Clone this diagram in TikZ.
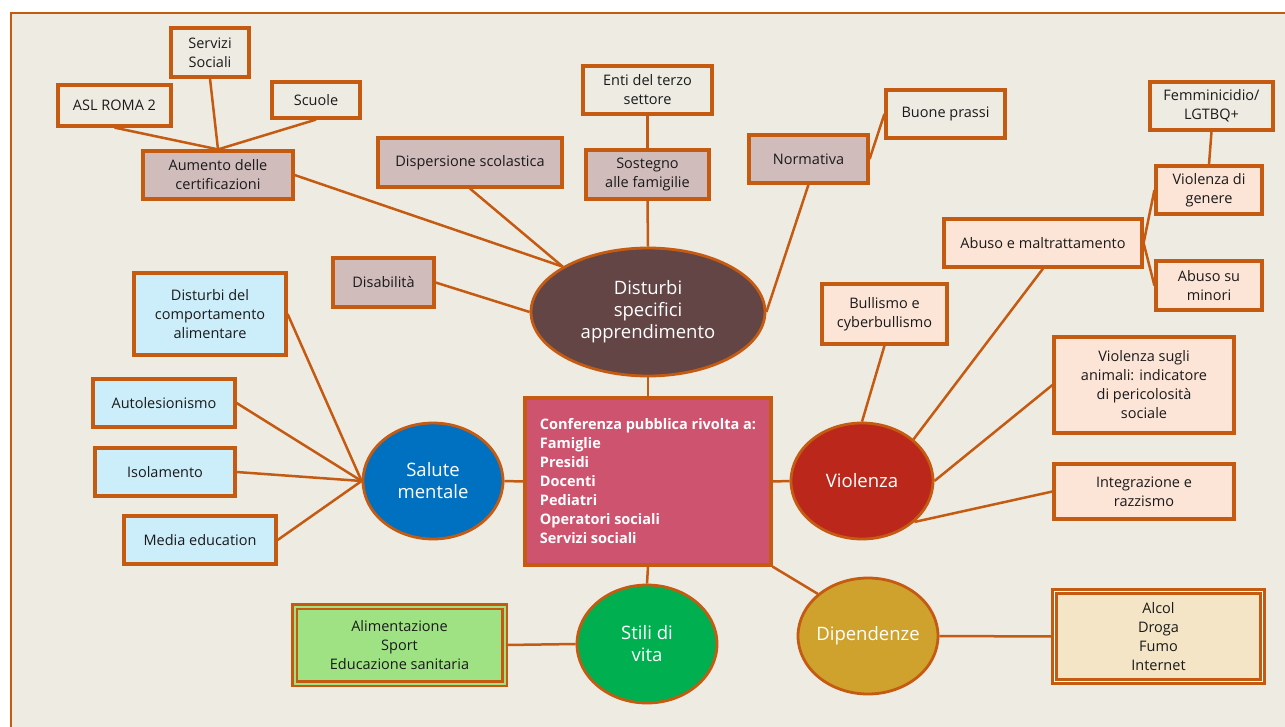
\documentclass[tikz,border=0pt]{standalone}
\usepackage{fontspec}
\setmainfont{Open Sans}
\usetikzlibrary{shapes.geometric}
\definecolor{bg}{HTML}{EEEBE3}
\definecolor{ocol}{HTML}{C55A11}
\definecolor{txt}{HTML}{1A1A1A}
\definecolor{mauve}{HTML}{D1BCBC}
\definecolor{peach}{HTML}{FCE4D6}
\definecolor{lblue}{HTML}{CCEEFA}
\definecolor{lgreen}{HTML}{9FE283}
\definecolor{cream}{HTML}{F3E5C6}
\definecolor{centerc}{HTML}{CE536E}
\definecolor{dsac}{HTML}{634545}
\definecolor{salc}{HTML}{0070C0}
\definecolor{violc}{HTML}{BB281B}
\definecolor{stilc}{HTML}{00B050}
\definecolor{dipc}{HTML}{CFA22E}
\begin{document}
\begin{tikzpicture}[x=1pt,y=-1pt,
  box/.style={draw=ocol, line width=3.2pt, align=center, text=txt,
    font=\fontsize{14.5}{19}\selectfont, inner sep=2pt},
  ell/.style={ellipse, draw=ocol, line width=2.8pt, inner sep=0pt},
  elltext/.style={text=white, align=center, font=\fontsize{18.5}{22}\selectfont},
  conn/.style={draw=ocol, line width=2.5pt}]
\useasboundingbox (0,0) rectangle (1285,726);
\clip (0,0) rectangle (1285,726);
\fill[white] (0,0) rectangle (1285,726);
\filldraw[fill=bg, draw=ocol, line width=2.2pt] (11,13) rectangle (1300,740);

% top-left cluster
\node[box, minimum width=78pt, minimum height=49pt] (serv) at (210,52.5) {Servizi\\Sociali};
\node[box, minimum width=113pt, minimum height=41pt] (asl) at (114.5,105.5) {ASL ROMA 2};
\node[box, minimum width=88pt, minimum height=36pt] (scuole) at (316,100) {Scuole};
\node[box, fill=mauve, minimum width=150pt, minimum height=48pt] (aum) at (218,175) {Aumento delle\\certificazioni};
\node[box, fill=mauve, minimum width=184pt, minimum height=49pt] (disp) at (470,162.5) {Dispersione scolastica};
\node[box, minimum width=129pt, minimum height=48pt] (enti) at (647.5,90) {Enti del terzo\\settore};
\node[box, fill=mauve, minimum width=123pt, minimum height=49pt] (sost) at (647.5,174.5) {Sostegno\\alle famigilie};
\node[box, fill=mauve, minimum width=119pt, minimum height=48pt] (norm) at (808.5,159) {Normativa};
\node[box, minimum width=119pt, minimum height=48pt] (buone) at (945.5,114) {Buone prassi};
\node[box, fill=mauve, minimum width=101pt, minimum height=49pt] (disab) at (383.5,282.5) {Disabilità};

% right cluster
\node[box, minimum width=123pt, minimum height=48pt] (femm) at (1211.5,106) {Femminicidio/\\LGTBQ+};
\node[box, fill=peach, minimum width=106pt, minimum height=48pt] (vdg) at (1209,190) {Violenza di\\genere};
\node[box, fill=peach, minimum width=198pt, minimum height=48pt] (abuso) at (1043,243) {Abuso e maltrattamento};
\node[box, fill=peach, minimum width=106pt, minimum height=49pt] (minori) at (1209,285.5) {Abuso su\\minori};
\node[box, fill=peach, minimum width=125pt, minimum height=60pt] (bull) at (884.5,314) {Bullismo e\\cyberbullismo};
\node[box, fill=peach, minimum width=180pt, minimum height=96pt] (anim) at (1144,385) {Violenza sugli\\animali: indicatore\\di pericolosità\\sociale};
\node[box, fill=peach, minimum width=180pt, minimum height=55pt] (integ) at (1144,491.5) {Integrazione e\\razzismo};

% left cluster
\node[box, fill=lblue, minimum width=152pt, minimum height=82pt] (dca) at (210,314) {Disturbi del\\comportamento\\alimentare};
\node[box, fill=lblue, minimum width=142pt, minimum height=48pt] (auto) at (164,403) {Autolesionismo};
\node[box, fill=lblue, minimum width=140pt, minimum height=48pt] (isol) at (165,472) {Isolamento};
\node[box, fill=lblue, minimum width=152pt, minimum height=48pt] (media) at (200,540) {Media education};

% center
\node[box, fill=centerc, text=white, align=left, font=\bfseries\fontsize{14.5}{19}\selectfont,
  minimum width=246pt, minimum height=167pt] (center) at (648,481.5)
  {Conferenza pubblica rivolta a:\\Famiglie\\Presidi\\Docenti\\Pediatri\\Operatori sociali\\Servizi sociali};

% ellipses
\node[ell, fill=dsac, minimum width=234pt, minimum height=128pt,
  label={[elltext]center:Disturbi\\specifici\\apprendimento}] (dsa) at (648,312) {};
\node[ell, fill=salc, minimum width=140pt, minimum height=116pt,
  label={[elltext]center:Salute\\mentale}] (sal) at (433,481) {};
\node[ell, fill=violc, minimum width=142pt, minimum height=116pt,
  label={[elltext]center:Violenza}] (viol) at (862,481) {};
\node[ell, fill=stilc, minimum width=140pt, minimum height=118pt,
  label={[elltext]center:Stili di\\vita}] (stili) at (647,644) {};
\node[ell, fill=dipc, minimum width=140pt, minimum height=116pt,
  label={[elltext]center:Dipendenze}] (dip) at (868,636) {};

% bottom boxes
\node[box, fill=lgreen, line width=2.6pt, double=lgreen, double distance=2pt,
  minimum width=210pt, minimum height=77pt] (alim) at (399.5,645) {Alimentazione\\Sport\\Educazione sanitaria};
\node[box, fill=cream, line width=2.7pt, double=white, double distance=1pt,
  minimum width=208pt, minimum height=90pt] (alcol) at (1158.5,636.5) {Alcol\\Droga\\Fumo\\Internet};

% connectors
\draw[conn] (asl.south) -- (aum.north);
\draw[conn] (serv.south) -- (aum.north);
\draw[conn] (scuole.south) -- (aum.north);
\draw[conn] (aum.east) -- (dsa.152);
\draw[conn] (disp.south) -- (dsa.152);
\draw[conn] (enti.south) -- (sost.north);
\draw[conn] (sost.south) -- (dsa.north);
\draw[conn] (norm.south) -- (dsa.east);
\draw[conn] (norm.east) -- (buone.west);
\draw[conn] (disab.east) -- (dsa.west);
\draw[conn] (center.north) -- (dsa.south);
\draw[conn] (center.west) -- (sal.east);
\draw[conn] (center.east) -- (viol.west);
\draw[conn] (center.south) -- (stili.north);
\draw[conn] (center.south east) -- (dip.140);
\draw[conn] (dca.east) -- (sal.west);
\draw[conn] (auto.east) -- (sal.west);
\draw[conn] (isol.east) -- (sal.west);
\draw[conn] (media.east) -- (sal.west);
\draw[conn] (stili.west) -- (alim.east);
\draw[conn] (dip.east) -- (alcol.west);
\draw[conn] (bull.south) -- (viol.north);
\draw[conn] (abuso.south) -- (viol.39);
\draw[conn] (anim.west) -- (viol.east);
\draw[conn] (integ.west) -- (viol.-38);
\draw[conn] (abuso.east) -- (vdg.west);
\draw[conn] (abuso.east) -- (minori.west);
\draw[conn] (femm.south) -- (vdg.north);
\end{tikzpicture}
\end{document}
